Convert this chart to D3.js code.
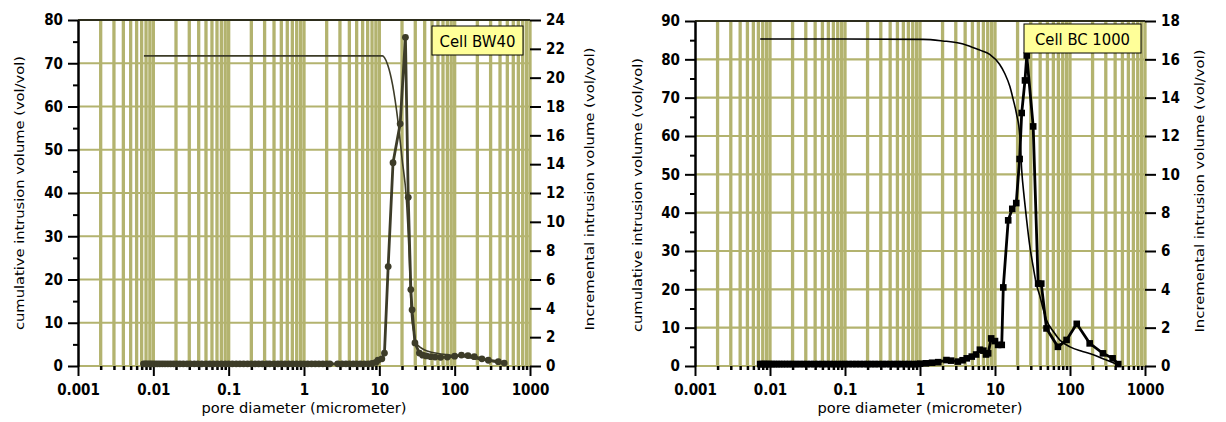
<!DOCTYPE html>
<html><head><meta charset="utf-8">
<script src="https://cdn.jsdelivr.net/npm/d3@7"></script>
<style>body{margin:0;background:#fff;} svg{display:block;}</style>
</head><body>
<svg id="c" width="1226" height="422"></svg>
<script>
// ---------- shared axis data ----------
const X_DOMAIN = [0.001, 1000];
const xMajorTicks = [0.001, 0.01, 0.1, 1, 10, 100, 1000];
const xTickLabels = ["0.001", "0.01", "0.1", "1", "10", "100", "1000"];
const xMinorMultipliers = [2, 3, 4, 5, 6, 7, 8, 9];
const xTitle = "pore diameter (micrometer)";
const leftTitle = "cumulative intrusion volume (vol/vol)";
const rightTitle = "Incremental intrusion volume (vol/vol)";

// ---------- Cell BW40 ----------
const bwLabel = "Cell BW40";
const bwLeftTicks = [0, 10, 20, 30, 40, 50, 60, 70, 80];
const bwLeftMinor = [5, 15, 25, 35, 45, 55, 65, 75];
const bwRightTicks = [0, 2, 4, 6, 8, 10, 12, 14, 16, 18, 20, 22, 24];
const bwCumulative = [
  [0.0075, 71.7], [11, 71.7], [11.7, 71.3], [13, 69.5], [15, 65], [17.7, 56.5], [20, 48],
  [22.9, 38.4], [25, 25], [26.7, 12], [29, 7.5], [31, 5.3], [35, 4.3], [40, 3.7], [49, 3.2],
  [60, 2.9], [80, 2.6], [100, 2.4], [150, 2.0], [200, 1.6], [300, 1.1], [464, 0.5]
];
const bwIncremental = [
  [0.0074, 0.15], [0.0078, 0.15], [0.0082, 0.15], [0.0087, 0.15], [0.0092, 0.15], [0.0098, 0.15],
  [0.0105, 0.15], [0.0113, 0.15], [0.0122, 0.15], [0.0132, 0.15], [0.0143, 0.15], [0.0156, 0.15],
  [0.017, 0.15], [0.0186, 0.15], [0.0204, 0.15], [0.0225, 0.15], [0.025, 0.15], [0.028, 0.15],
  [0.031, 0.15], [0.035, 0.15], [0.039, 0.15], [0.044, 0.15], [0.05, 0.15], [0.056, 0.15],
  [0.063, 0.15], [0.071, 0.15], [0.08, 0.15], [0.09, 0.15], [0.1, 0.15], [0.112, 0.15],
  [0.126, 0.15], [0.141, 0.15], [0.158, 0.15], [0.178, 0.15], [0.2, 0.15], [0.224, 0.15],
  [0.25, 0.15], [0.28, 0.15], [0.32, 0.15], [0.35, 0.15], [0.4, 0.15], [0.45, 0.15],
  [0.5, 0.15], [0.56, 0.15], [0.63, 0.15], [0.71, 0.15], [0.8, 0.15], [0.9, 0.15],
  [1.0, 0.15], [1.12, 0.15], [1.26, 0.15], [1.41, 0.15], [1.58, 0.15], [1.78, 0.15],
  [2.0, 0.15], [2.2, 0.15], [2.8, 0.15], [3.2, 0.15], [3.6, 0.15], [4.0, 0.15], [4.5, 0.15],
  [5.0, 0.15], [5.6, 0.15], [6.3, 0.15], [7.1, 0.15], [8.0, 0.18], [9.0, 0.25], [9.6, 0.4],
  [10.8, 0.5], [11.7, 0.9], [13.1, 6.9], [15.2, 14.1], [18.9, 16.8], [22.2, 22.8], [24.2, 11.7],
  [26.2, 5.3], [27.2, 3.9], [29.7, 1.6], [34, 0.9], [37.6, 0.75], [42, 0.7], [48, 0.65],
  [55, 0.62], [65, 0.6], [80, 0.62], [100, 0.68], [123, 0.76], [150, 0.72], [182, 0.65],
  [230, 0.5], [280, 0.4], [380, 0.3], [455, 0.2]
];

// ---------- Cell BC 1000 ----------
const bcLabel = "Cell BC 1000";
const bcLeftTicks = [0, 10, 20, 30, 40, 50, 60, 70, 80, 90];
const bcLeftMinor = [5, 15, 25, 35, 45, 55, 65, 75, 85];
const bcRightTicks = [0, 2, 4, 6, 8, 10, 12, 14, 16, 18];
const bcCumulative = [
  [0.0074, 85.3], [0.1, 85.3], [1.1, 85.2], [2, 84.8], [3.4, 84.2], [4.2, 83.7], [6.3, 82.4],
  [8.5, 81.3], [11.5, 78.7], [13.5, 76.3], [15.8, 72.9], [17.5, 69.5], [19.3, 65.9], [21.5, 59.8],
  [22.7, 51.1], [24.5, 44], [26.4, 38.1], [29, 31.5], [32.3, 25.9], [35.5, 21.5], [39.8, 18.1],
  [44, 14.8], [48.6, 12], [60, 9], [73, 6.8], [100, 5.0], [147, 3.8], [200, 3.0], [300, 1.6], [420, 0.5]
];
const bcIncremental = [
  [0.0074, 0.1], [0.0078, 0.1], [0.0082, 0.1], [0.0087, 0.1], [0.0092, 0.1], [0.0098, 0.1],
  [0.0105, 0.1], [0.0113, 0.1], [0.0122, 0.1], [0.0132, 0.1], [0.0143, 0.1], [0.0156, 0.1],
  [0.017, 0.1], [0.0186, 0.1], [0.0204, 0.1], [0.0225, 0.1], [0.025, 0.1], [0.028, 0.1],
  [0.031, 0.1], [0.035, 0.1], [0.039, 0.1], [0.044, 0.1], [0.05, 0.1], [0.056, 0.1],
  [0.063, 0.1], [0.071, 0.1], [0.08, 0.1], [0.09, 0.1], [0.1, 0.1], [0.112, 0.1],
  [0.126, 0.1], [0.141, 0.1], [0.158, 0.1], [0.178, 0.1], [0.2, 0.1], [0.224, 0.1],
  [0.25, 0.1], [0.28, 0.1], [0.32, 0.1], [0.35, 0.1], [0.4, 0.1], [0.45, 0.1],
  [0.5, 0.1], [0.56, 0.1], [0.63, 0.1], [0.71, 0.1], [0.8, 0.1], [0.9, 0.1], [1.0, 0.12],
  [1.2, 0.14], [1.45, 0.17], [1.75, 0.2], [2.25, 0.31], [2.6, 0.28], [3.2, 0.23], [3.7, 0.3],
  [4.2, 0.4], [4.9, 0.49], [5.6, 0.6], [6.3, 0.85], [7.0, 0.8], [7.6, 0.6], [8.1, 0.66],
  [8.9, 1.44], [10.0, 1.3], [11.0, 1.1], [12.3, 1.1], [12.9, 4.1], [15, 7.6], [17, 8.2],
  [19.2, 8.5], [21.3, 10.8], [22.7, 13.2], [25.1, 14.9], [26.5, 16.2], [32.3, 12.5],
  [37.6, 4.3], [41.4, 4.3], [48.6, 1.96], [69, 1.0], [90, 1.36], [123, 2.2], [183, 1.18],
  [275, 0.66], [370, 0.4], [440, 0.1]
];

// ---------- drawing ----------
const GRID = "#b3b36f";
const TICK_FONT = "'DejaVu Sans Condensed', 'DejaVu Sans', sans-serif";
const TEXT_FONT = "'DejaVu Sans', Verdana, sans-serif";
const svg = d3.select("#c");

function drawChart(o) {
  const g = svg.append("g");
  const x = d3.scaleLog().domain(X_DOMAIN).range([o.x0, o.x1]);
  const yL = d3.scaleLinear().domain([0, o.leftMax]).range([o.yB, o.yT]);
  const yR = d3.scaleLinear().domain([0, o.rightMax]).range([o.yB, o.yT]);

  const minorX = [];
  xMajorTicks.slice(0, -1).forEach(d => xMinorMultipliers.forEach(m => minorX.push(d * m)));
  const gridX = minorX.concat(xMajorTicks.slice(1));

  // vertical grid
  g.append("g").selectAll("line").data(gridX).join("line")
    .attr("x1", d => x(d)).attr("x2", d => x(d))
    .attr("y1", o.yT).attr("y2", o.yB)
    .attr("stroke", GRID).attr("stroke-width", 3.3);
  // horizontal grid
  g.append("g").selectAll("line").data(o.leftTicks).join("line")
    .attr("x1", o.x0).attr("x2", o.x1)
    .attr("y1", d => yL(d)).attr("y2", d => yL(d))
    .attr("stroke", GRID).attr("stroke-width", 2.2);
  // top border
  g.append("line").attr("x1", o.x0).attr("x2", o.x1).attr("y1", o.yT).attr("y2", o.yT)
    .attr("stroke", "#000").attr("stroke-width", 1.5);

  const styleAxis = (ax, size) => {
    ax.selectAll(".tick line").attr("stroke", "#000").attr("stroke-width", 2);
    ax.selectAll("text").attr("font-family", TICK_FONT).attr("font-weight", "bold")
      .attr("font-size", size).attr("fill", "#000");
  };

  // bottom minor
  const bm = g.append("g").attr("transform", `translate(0,${o.yB})`)
    .call(d3.axisBottom(x).tickValues(minorX).tickSize(4).tickFormat(""));
  bm.select(".domain").remove();
  styleAxis(bm, 15);
  bm.selectAll(".tick line").attr("stroke-width", 2.5);
  // bottom major
  const bM = g.append("g").attr("transform", `translate(0,${o.yB})`)
    .call(d3.axisBottom(x).tickValues(xMajorTicks)
      .tickFormat((d, i) => xTickLabels[i]).tickSize(10).tickPadding(8));
  bM.select(".domain").remove();
  styleAxis(bM, 15);

  // left minor
  const lm = g.append("g").attr("transform", `translate(${o.x0},0)`)
    .call(d3.axisLeft(yL).tickValues(o.leftMinor).tickSize(5).tickFormat(""));
  lm.select(".domain").remove();
  styleAxis(lm, 15);
  // left major
  const lM = g.append("g").attr("transform", `translate(${o.x0},0)`)
    .call(d3.axisLeft(yL).tickValues(o.leftTicks).tickSize(10).tickSizeOuter(0).tickPadding(5));
  lM.select(".domain").attr("stroke", "#000").attr("stroke-width", 2.5);
  styleAxis(lM, 15);

  // right
  const rM = g.append("g").attr("transform", `translate(${o.x1},0)`)
    .call(d3.axisRight(yR).tickValues(o.rightTicks).tickSize(11).tickPadding(5));
  rM.select(".domain").remove();
  styleAxis(rM, 15);

  // titles
  g.append("text").attr("transform", `translate(${o.leftTitleX},${o.leftTitleY}) rotate(-90)`)
    .attr("text-anchor", "middle").attr("font-family", TEXT_FONT).attr("font-size", 13)
    .attr("textLength", 274).attr("lengthAdjust", "spacingAndGlyphs").text(leftTitle);
  g.append("text").attr("transform", `translate(${o.rightTitleX},${o.rightTitleY}) rotate(-90)`)
    .attr("text-anchor", "middle").attr("font-family", TEXT_FONT).attr("font-size", 13)
    .attr("textLength", 283).attr("lengthAdjust", "spacingAndGlyphs").text(rightTitle);
  g.append("text").attr("x", (o.x0 + o.x1) / 2).attr("y", 413)
    .attr("text-anchor", "middle").attr("font-family", TEXT_FONT).attr("font-size", 14)
    .attr("textLength", 205).attr("lengthAdjust", "spacingAndGlyphs").text(xTitle);

  // cumulative curve
  const cumLine = d3.line().x(d => x(d[0])).y(d => yL(d[1])).curve(d3.curveMonotoneX);
  g.append("path").datum(o.cum).attr("d", cumLine)
    .attr("fill", "none").attr("stroke", o.color).attr("stroke-width", 1.6);

  // incremental curve
  const incLine = d3.line().x(d => x(d[0])).y(d => yR(d[1]));
  g.append("path").datum(o.inc).attr("d", incLine)
    .attr("fill", "none").attr("stroke", o.color).attr("stroke-width", 2.8);
  if (o.marker === "circle") {
    g.append("g").selectAll("circle").data(o.inc).join("circle")
      .attr("cx", d => x(d[0])).attr("cy", d => yR(d[1])).attr("r", 3.4)
      .attr("fill", o.color);
  } else {
    g.append("g").selectAll("rect").data(o.inc).join("rect")
      .attr("x", d => x(d[0]) - 3.3).attr("y", d => yR(d[1]) - 3.3)
      .attr("width", 6.6).attr("height", 6.6).attr("fill", o.color);
  }

  // label box
  g.append("rect").attr("x", o.box[0]).attr("y", o.box[1]).attr("width", o.box[2]).attr("height", o.box[3])
    .attr("fill", "#ffff99").attr("stroke", "#000").attr("stroke-width", 1);
  g.append("text").attr("x", o.box[0] + o.box[2] / 2).attr("y", o.box[1] + o.box[3] - 8)
    .attr("text-anchor", "middle").attr("font-family", TEXT_FONT).attr("font-size", 16)
    .attr("textLength", o.labelLen).attr("lengthAdjust", "spacingAndGlyphs").text(o.label);
}

drawChart({
  x0: 78, x1: 530, yT: 20, yB: 366,
  leftMax: 80, rightMax: 24,
  leftTicks: bwLeftTicks, leftMinor: bwLeftMinor, rightTicks: bwRightTicks,
  cum: bwCumulative, inc: bwIncremental,
  color: "#3d3c28", marker: "circle",
  leftTitleX: 24, leftTitleY: 193, rightTitleX: 594, rightTitleY: 189,
  box: [432, 26, 91, 29], label: bwLabel, labelLen: 76
});

drawChart({
  x0: 695, x1: 1145, yT: 21, yB: 366,
  leftMax: 90, rightMax: 18,
  leftTicks: bcLeftTicks, leftMinor: bcLeftMinor, rightTicks: bcRightTicks,
  cum: bcCumulative, inc: bcIncremental,
  color: "#000", marker: "square",
  leftTitleX: 642, leftTitleY: 195, rightTitleX: 1204, rightTitleY: 191,
  box: [1024, 24, 117, 29], label: bcLabel, labelLen: 95
});
</script>
</body></html>
